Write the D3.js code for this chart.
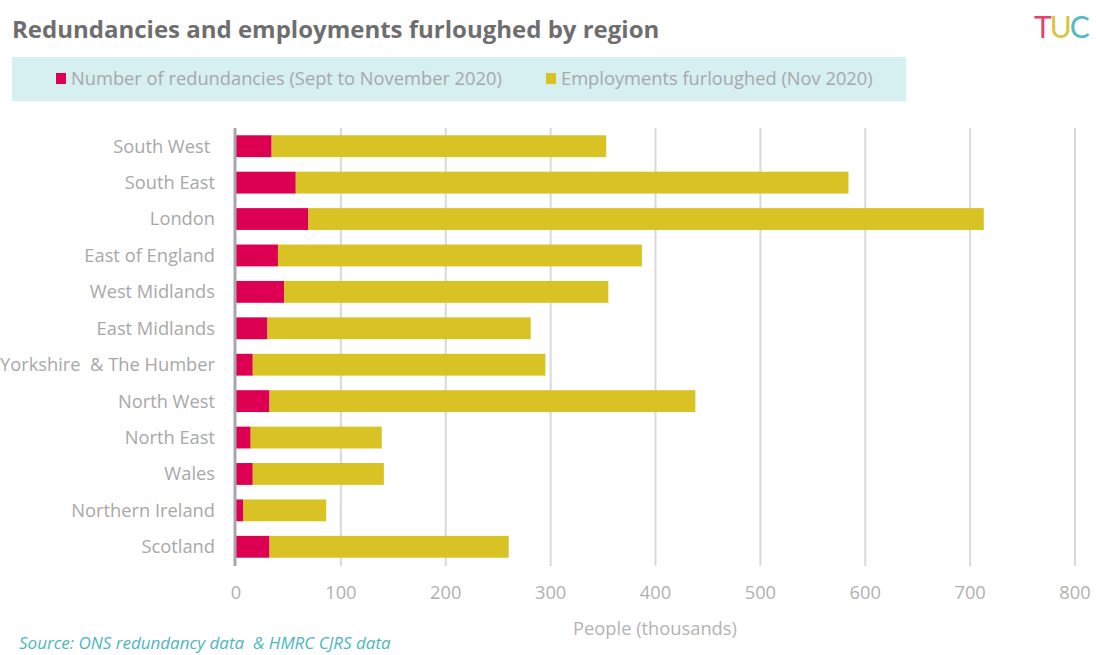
<!DOCTYPE html>
<html lang="en">
<head>
  <meta charset="utf-8">
  <title>Redundancies and employments furloughed by region</title>
  <script src="https://d3js.org/d3.v7.min.js" charset="utf-8"></script>
  <style>
    body {
      margin: 0;
      background: #fff;
      font-family: "Open Sans", "Noto Sans", sans-serif;
    }
    .tick-label, .cat-label {
      fill: #a8a8a8;
      font-size: 18.3px;
    }
    .cat-label {
      white-space: pre;
    }
  </style>
</head>
<body>
  <script>
    // chart data (thousands of people)
    var regions = ["South West ", "South East", "London", "East of England", "West Midlands",
                   "East Midlands", "Yorkshire  & The Humber", "North West", "North East",
                   "Wales", "Northern Ireland", "Scotland"];
    var redundancies = [34, 57, 69, 40, 46, 30, 16, 32, 14, 16, 7, 32];
    var furloughed = [319, 527, 644, 347, 309, 251, 279, 406, 125, 125, 79, 228];
    var xTicks = [0, 100, 200, 300, 400, 500, 600, 700, 800];
    var seriesNames = ["Number of redundancies (Sept to November 2020)", "Employments furloughed (Nov 2020)"];
    var seriesColors = ["#dd0052", "#d8c224"];

    var width = 1096;
    var height = 655;

    var svg = d3.select("body")
      .append("svg")
      .attr("width", width)
      .attr("height", height);

    // title
    svg.append("text")
      .attr("x", 12)
      .attr("y", 38)
      .attr("fill", "#6e6e6e")
      .style("font-size", "24px")
      .style("font-weight", "bold")
      .text("Redundancies and employments furloughed by region");

    // TUC logo, just coloured letters
    var logo = svg.append("text")
      .attr("x", 1034)
      .attr("y", 38)
      .style("font-size", "30px")
      .style("font-family", "Lato, sans-serif")
      .style("letter-spacing", "-2px");
    logo.append("tspan").attr("fill", "#e2426f").text("T");
    logo.append("tspan").attr("fill", "#d9c43a").text("U");
    logo.append("tspan").attr("fill", "#53b9c4").text("C");

    // legend box
    svg.append("rect")
      .attr("x", 12)
      .attr("y", 57)
      .attr("width", 894)
      .attr("height", 44)
      .attr("fill", "#d6eff1");

    var legendX = [56, 546];
    var legend = svg.selectAll(".legend")
      .data(seriesNames)
      .enter()
      .append("g")
      .attr("class", "legend")
      .attr("transform", function(d, i) { return "translate(" + legendX[i] + ",0)"; });
    legend.append("rect")
      .attr("x", 0)
      .attr("y", 73)
      .attr("width", 10)
      .attr("height", 11)
      .attr("fill", function(d, i) { return seriesColors[i]; });
    legend.append("text")
      .attr("class", "tick-label")
      .attr("x", 15)
      .attr("y", 85)
      .text(function(d) { return d; });

    // scales
    var x = d3.scaleLinear()
      .domain([0, 800])
      .range([236, 1075]);

    var y = d3.scaleBand()
      .domain(regions)
      .range([128, 565])
      .paddingInner(0.4)
      .paddingOuter(0.2);

    // gridlines
    svg.selectAll(".grid")
      .data(xTicks.slice(1))
      .enter()
      .append("line")
      .attr("class", "grid")
      .attr("x1", function(d) { return x(d); })
      .attr("x2", function(d) { return x(d); })
      .attr("y1", 128)
      .attr("y2", 566)
      .attr("stroke", "#d9d9d9")
      .attr("stroke-width", 2);

    // stacked bars
    var rows = regions.map(function(r, i) {
      return { region: r, red: redundancies[i], furl: furloughed[i] };
    });
    var stack = d3.stack().keys(["red", "furl"]);
    var layers = stack(rows);

    svg.selectAll(".layer")
      .data(layers)
      .enter()
      .append("g")
      .attr("class", "layer")
      .attr("fill", function(d, i) { return seriesColors[i]; })
      .selectAll("rect")
      .data(function(d) { return d; })
      .enter()
      .append("rect")
      .attr("x", function(d) { return x(d[0]); })
      .attr("y", function(d) { return y(d.data.region); })
      .attr("width", function(d) { return x(d[1]) - x(d[0]); })
      .attr("height", y.bandwidth());

    // vertical axis line
    svg.append("line")
      .attr("x1", 235)
      .attr("x2", 235)
      .attr("y1", 128)
      .attr("y2", 566)
      .attr("stroke", "#a9a6a7")
      .attr("stroke-width", 3);

    // category labels
    svg.selectAll(".cat-label")
      .data(regions)
      .enter()
      .append("text")
      .attr("class", "cat-label")
      .attr("x", 215)
      .attr("y", function(d) { return y(d) + y.bandwidth() / 2; })
      .attr("dy", "0.35em")
      .attr("text-anchor", "end")
      .text(function(d) { return d; });

    // x tick labels
    svg.selectAll(".xtick")
      .data(xTicks)
      .enter()
      .append("text")
      .attr("class", "tick-label")
      .attr("x", function(d) { return x(d); })
      .attr("y", 599)
      .attr("text-anchor", "middle")
      .style("fill", "#b0b0b0")
      .text(function(d) { return d; });

    // axis title
    svg.append("text")
      .attr("class", "tick-label")
      .attr("x", 655)
      .attr("y", 635)
      .attr("text-anchor", "middle")
      .style("fill", "#b3b3b3")
      .text("People (thousands)");

    // source note
    svg.append("text")
      .attr("x", 19)
      .attr("y", 649)
      .attr("fill", "#4db6c0")
      .style("font-size", "17px")
      .style("font-style", "italic")
      .style("white-space", "pre")
      .text("Source: ONS redundancy data  & HMRC CJRS data");
  </script>
</body>
</html>
